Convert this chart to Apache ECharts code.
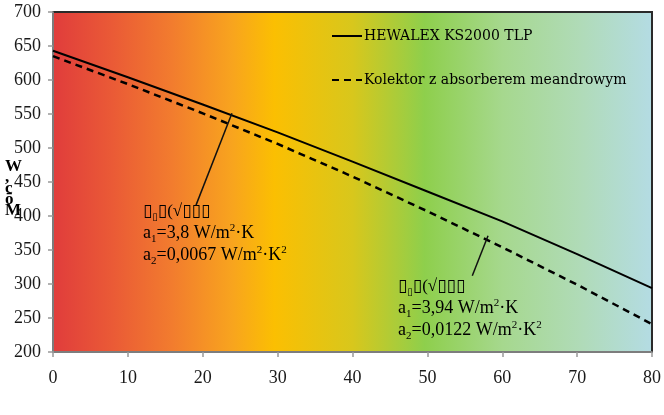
<!DOCTYPE html>
<html><head><meta charset="utf-8">
<script src="https://cdn.jsdelivr.net/npm/echarts@6/dist/echarts.min.js"></script>
<style>html,body{margin:0;padding:0;background:#fff}#c{width:664px;height:415px}</style>
</head><body><div id="c"></div>
<script>
const tempDiff = [0, 10, 20, 30, 40, 50, 60, 70, 80];
const hewalex = [643, 604, 564, 523, 480, 436, 392, 344, 294];
const meander = [635, 594, 551, 506, 458, 407, 354, 299, 241];
const seriesNames = ['HEWALEX KS2000 TLP', 'Kolektor z absorberem meandrowym'];
const yTicks = [200, 250, 300, 350, 400, 450, 500, 550, 600, 650, 700];
const xTicks = [0, 10, 20, 30, 40, 50, 60, 70, 80];
const arrow1 = [[19.1, 416], [23.9, 551]];
const arrow2 = [[56.0, 312], [58.1, 371]];

const chart = echarts.init(document.getElementById('c'), null, {renderer: 'canvas'});
const serif = 'Liberation Serif';
const LH = 22;
const richAnn = {
  n: {fontFamily: serif, fontSize: 18, color: '#1a1a1a', lineHeight: LH},
  sb: {fontFamily: serif, fontSize: 11, color: '#1a1a1a', lineHeight: LH, verticalAlign: 'bottom'},
  sp: {fontFamily: serif, fontSize: 11, color: '#1a1a1a', lineHeight: LH, verticalAlign: 'top'},
  t: {fontFamily: 'DejaVu Sans', fontSize: 17, color: '#4a4438', lineHeight: LH},
  ts: {fontFamily: 'DejaVu Sans', fontSize: 10, color: '#4a4438', lineHeight: LH, verticalAlign: 'bottom'},
  tp: {fontFamily: serif, fontSize: 17, color: '#4a4438', lineHeight: LH}
};
function ann(a1, a2) {
  return '{t|▯}{ts|▯}{t|▯}{tp|(√}{t|▯▯▯}\n' +
    '{n|a}{sb|1}{n|=' + a1 + ' W/m}{sp|2}{n|·K}\n' +
    '{n|a}{sb|2}{n|=' + a2 + ' W/m}{sp|2}{n|·K}{sp|2}';
}

chart.setOption({
  animation: false,
  grid: {
    left: 53, right: 12, top: 12, bottom: 63, show: true,
    backgroundColor: new echarts.graphic.LinearGradient(0, 0, 1, 0, [
      {offset: 0, color: '#e03c3c'},
      {offset: 0.1, color: '#ea5a36'},
      {offset: 0.2, color: '#f27c2e'},
      {offset: 0.3, color: '#f8a41e'},
      {offset: 0.37, color: '#fbbf02'},
      {offset: 0.5, color: '#d8c71c'},
      {offset: 0.62, color: '#8ecf4c'},
      {offset: 0.75, color: '#a6d88e'},
      {offset: 0.88, color: '#b0dbb8'},
      {offset: 1, color: '#b4dce4'}
    ]),
    borderColor: '#2a2a2a', borderWidth: 2
  },
  legend: {
    orient: 'vertical', left: 326, top: 24, itemGap: 30,
    itemWidth: 30, itemHeight: 14,
    itemStyle: {opacity: 0},
    data: seriesNames,
    textStyle: {fontFamily: 'DejaVu Serif', fontSize: 14, color: '#000', padding: [0, 0, 0, -3]}
  },
  xAxis: {
    type: 'value', min: 0, max: 80, interval: 10,
    axisLine: {show: true, lineStyle: {color: '#999', width: 1.5}},
    axisTick: {show: true, length: 5, lineStyle: {color: '#999', width: 1.5}},
    splitLine: {show: false},
    axisLabel: {fontFamily: serif, fontSize: 18, color: '#1a1a1a', margin: 17,
      formatter: v => xTicks.includes(v) ? String(v) : ''}
  },
  yAxis: {
    type: 'value', min: 200, max: 700, interval: 50,
    axisLine: {show: true, lineStyle: {color: '#999', width: 1.5}},
    axisTick: {show: true, length: 5, lineStyle: {color: '#999', width: 1.5}},
    splitLine: {show: false},
    axisLabel: {fontFamily: serif, fontSize: 18, color: '#1a1a1a', margin: 12,
      formatter: v => yTicks.includes(v) ? String(v) : ''}
  },
  series: [
    {
      name: seriesNames[0], type: 'line', symbol: 'none',
      data: tempDiff.map((x, i) => [x, hewalex[i]]),
      lineStyle: {color: '#000', width: 2},
      itemStyle: {color: '#000'},
      markLine: {
        silent: true, symbol: ['none', 'arrow'], symbolSize: [0, 9],
        lineStyle: {color: '#111', width: 1.5, type: 'solid'},
        label: {show: false},
        data: [[{coord: arrow1[0]}, {coord: arrow1[1]}]]
      }
    },
    {
      name: seriesNames[1], type: 'line', symbol: 'none',
      data: tempDiff.map((x, i) => [x, meander[i]]),
      lineStyle: {color: '#000', width: 2.5, type: [7, 5]},
      itemStyle: {color: '#000'},
      markLine: {
        silent: true, symbol: ['none', 'arrow'], symbolSize: [0, 9],
        lineStyle: {color: '#111', width: 1.5, type: 'solid'},
        label: {show: false},
        data: [[{coord: arrow2[0]}, {coord: arrow2[1]}]]
      }
    }
  ],
  graphic: [
    {type: 'text', left: 143, top: 203, style: {text: ann('3,8', '0,0067'), rich: richAnn}},
    {type: 'text', left: 398, top: 278, style: {text: ann('3,94', '0,0122'), rich: richAnn}},
    {type: 'text', left: 5, top: 158, style: {text: 'W\n,\nc\nō\nM', fontFamily: serif, fontWeight: 'bold', fontSize: 17, lineHeight: 11, color: '#111', align: 'center'}}
  ]
});
</script></body></html>
